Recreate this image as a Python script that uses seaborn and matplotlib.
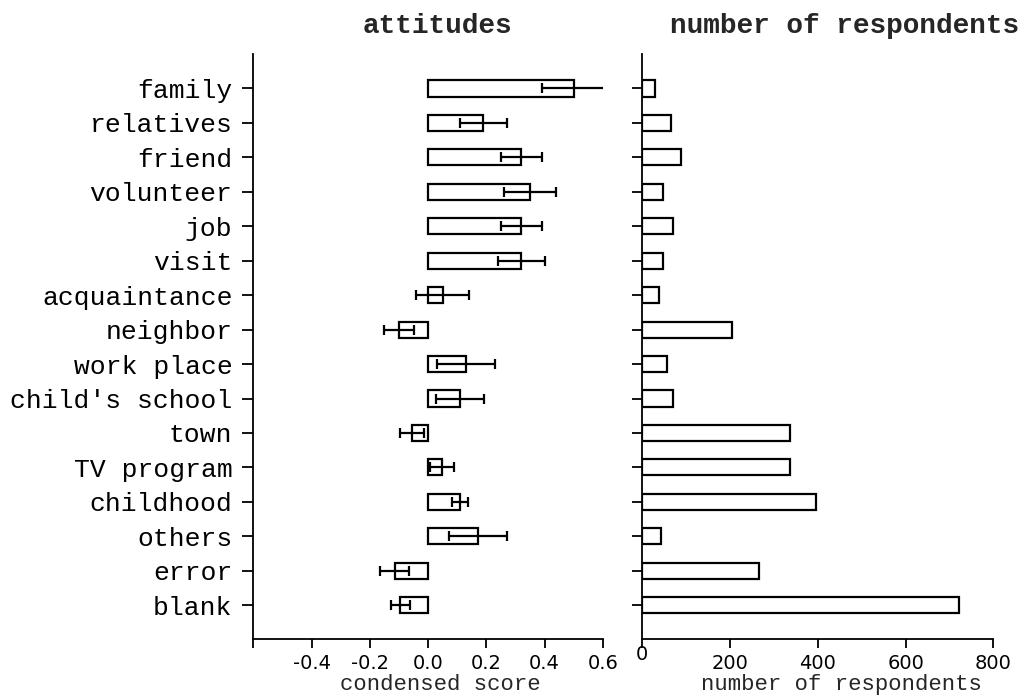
import matplotlib
matplotlib.use("Agg")
import matplotlib.pyplot as plt
import matplotlib.transforms as mtransforms
import seaborn as sns
import pandas as pd

categories = ["family", "relatives", "friend", "volunteer", "job", "visit",
              "acquaintance", "neighbor", "work place", "child's school",
              "town", "TV program", "childhood", "others", "error", "blank"]
scores = [0.50, 0.19, 0.32, 0.35, 0.32, 0.32, 0.05, -0.10, 0.13, 0.11,
          -0.055, 0.047, 0.11, 0.17, -0.115, -0.095]
score_err = [0.11, 0.08, 0.07, 0.09, 0.07, 0.08, 0.09, 0.05, 0.10, 0.083,
             0.042, 0.041, 0.028, 0.10, 0.05, 0.032]
respondents = [29, 65, 88, 46, 69, 46, 38, 204, 56, 69, 337, 337, 396, 42, 266, 721]

score_ticks = [-0.6, -0.4, -0.2, 0.0, 0.2, 0.4, 0.6]
score_ticklabels = ["", "-0.4", "-0.2", "0.0", "0.2", "0.4", "0.6"]
count_ticks = [0, 200, 400, 600, 800]
count_ticklabels = ["0", "200", "400", "600", "800"]

df = pd.DataFrame({"category": categories, "score": scores, "err": score_err,
                   "n": respondents})

sns.set_style("ticks")
mono = "Liberation Mono"

fig = plt.figure(figsize=(10.33, 6.98), dpi=100)
axL = fig.add_axes([0.2452, 0.0841, 0.3385, 0.8385])
axR = fig.add_axes([0.6218, 0.0841, 0.3398, 0.8385])

bar_kw = dict(orient="h", color="white", edgecolor="black", linewidth=1.6,
              width=0.47, saturation=1)
sns.barplot(data=df, x="score", y="category", ax=axL, **bar_kw)
sns.barplot(data=df, x="n", y="category", ax=axR, **bar_kw)

ypos = list(range(len(categories)))
axL.errorbar(df["score"], ypos, xerr=df["err"], fmt="none", ecolor="black",
             elinewidth=1.6, capsize=3.5, capthick=1.6, zorder=5)

for ax in (axL, axR):
    ax.set_ylim(15.99, -1.0)
    for s in ("top", "right"):
        ax.spines[s].set_visible(False)
    for s in ("left", "bottom"):
        ax.spines[s].set_linewidth(1.3)
        ax.spines[s].set_color("black")
    ax.set_xlabel("")
    ax.set_ylabel("")
    ax.tick_params(axis="x", direction="out", length=6.5, width=1.3,
                   pad=4, labelsize=14, colors="black")
    ax.tick_params(axis="y", direction="out", length=8, width=1.3, colors="black")

axL.set_xlim(-0.6, 0.6)
axL.set_xticks(score_ticks)
axL.set_xticklabels(score_ticklabels)
axL.set_yticks(ypos)
axL.set_yticklabels(categories, fontfamily=mono, fontsize=19)
axL.tick_params(axis="y", pad=7)

axR.set_xlim(0, 800)
axR.set_xticks(count_ticks)
axR.set_xticklabels(count_ticklabels)
axR.set_yticks(ypos)
axR.set_yticklabels([])
axR.tick_params(axis="y", length=7.5)

# the "0" label sits slightly higher in the reference
lab0 = axR.get_xticklabels()[0]
lab0.set_transform(lab0.get_transform() +
                   mtransforms.ScaledTranslation(0, 9 / 100, fig.dpi_scale_trans))

fig.text(437 / 1033, 1 - 26 / 698, "attitudes", ha="center", va="center",
         fontfamily=mono, fontweight="bold", fontsize=20)
fig.text(845 / 1033, 1 - 26 / 698, "number of respondents", ha="center", va="center",
         fontfamily=mono, fontweight="bold", fontsize=20)
fig.text(440 / 1033, 3 / 698, "condensed score", ha="center", va="bottom",
         fontfamily=mono, fontsize=16)
fig.text(841 / 1033, 3 / 698, "number of respondents", ha="center", va="bottom",
         fontfamily=mono, fontsize=16)

fig.savefig("out.png", dpi=100)
